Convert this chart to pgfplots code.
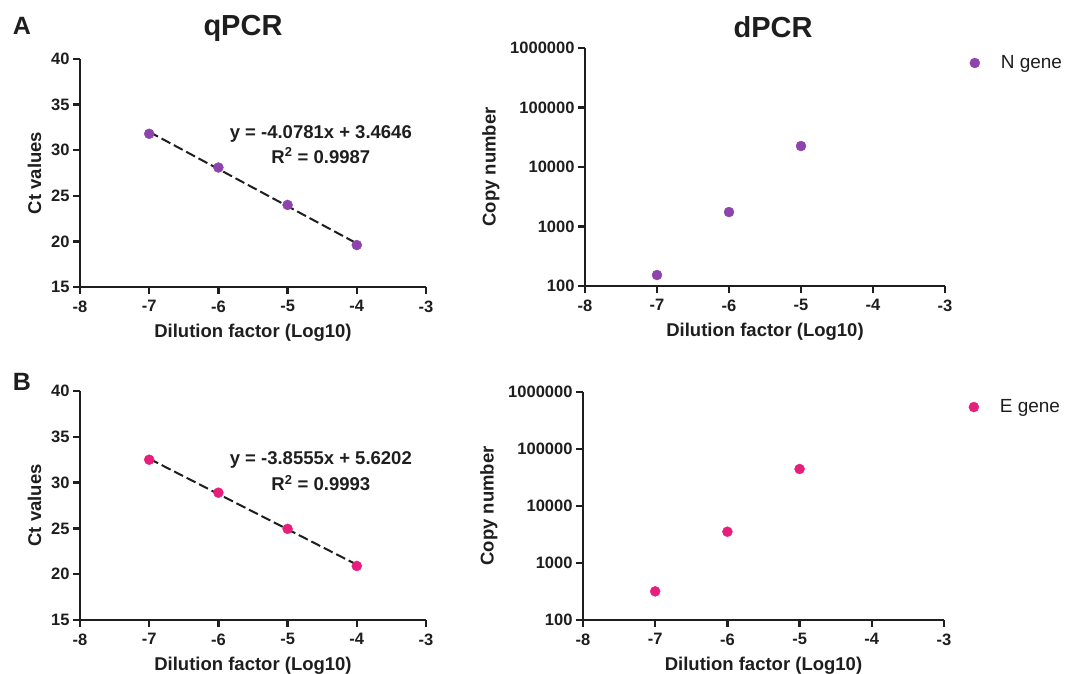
\documentclass[border=0pt]{standalone}
\usepackage{pgfplots}
\pgfplotsset{compat=1.18}
\usepackage{fontspec}
\setmainfont{Liberation Sans}

\definecolor{ngene}{RGB}{142,68,173}
\definecolor{egene}{RGB}{232,30,125}
\definecolor{axisgray}{RGB}{30,30,30}

\pgfplotsset{
  panel/.style={
    scale only axis,
    anchor=south west,
    axis x line*=bottom, axis y line*=left,
    axis line style={-, line width=2.6pt, axisgray},
    tick align=outside,
    major tick length=7pt,
    tick style={line width=2.4pt, axisgray},
    xmin=-8, xmax=-3,
    xtick={-8,-7,-6,-5,-4,-3},
    xticklabels={-8,-7,-6,-5,-4,-3},
    ticklabel style={font=\bfseries\fontsize{16.5}{16.5}\selectfont, text=axisgray},
    xticklabel style={yshift=-3pt},
    label style={font=\bfseries\fontsize{18.5}{18.5}\selectfont, text=axisgray},
    xlabel style={yshift=-5pt},
    xlabel={Dilution factor (Log10)},
    clip=false,
  },
  qpcrax/.style={ymin=15, ymax=40, ytick={15,20,...,40},
    yticklabels={15,20,25,30,35,40}, ylabel={Ct values},
    ylabel style={xshift=0pt, yshift=3pt}},
  dpcrax/.style={ymin=100, ymax=1000000,
    ytick={100,1000,10000,100000,1000000},
    yticklabels={100,1000,10000,100000,1000000},
    yminorticks=false, ylabel={Copy number},
    ylabel style={yshift=4pt},
    legend image code/.code={\draw[##1] plot coordinates {(0pt,0pt)};},
    legend style={draw=none, fill=none, anchor=west, column sep=19pt,
      font=\fontsize{19}{19}\selectfont, text=axisgray}},
}

\begin{document}
\begin{tikzpicture}
\useasboundingbox (0,0) rectangle (1077pt,673pt);

% panel letters and titles
\node[font=\bfseries\fontsize{25}{25}\selectfont, text=axisgray] at (22pt,647pt) {A};
\node[font=\bfseries\fontsize{25}{25}\selectfont, text=axisgray] at (22pt,291pt) {B};
\node[font=\bfseries\fontsize{29}{29}\selectfont, text=axisgray] at (243pt,645pt) {qPCR};
\node[font=\bfseries\fontsize{29}{29}\selectfont, text=axisgray] at (773pt,646pt) {dPCR};

% A, qPCR
\begin{axis}[panel, qpcrax, at={(80pt,386pt)}, width=346pt, height=228pt]
  \addplot[only marks, mark=*, mark size=5pt, color=ngene] coordinates {(-7,31.8) (-6,28.1) (-5,24.0) (-4,19.6)};
  \addplot[axisgray, line width=2pt, dash pattern=on 10pt off 4pt] coordinates {(-7,32.01) (-4,19.78)};
  \node[font=\bfseries\fontsize{18.5}{18.5}\selectfont, text=axisgray] at (axis cs:-4.52,31.8) {y = -4.0781x + 3.4646};
  \node[font=\bfseries\fontsize{18.5}{18.5}\selectfont, text=axisgray] at (axis cs:-4.52,29.4) {R\textsuperscript{2} = 0.9987};
\end{axis}

% A, dPCR
\begin{axis}[panel, ymode=log, dpcrax, at={(585pt,387pt)}, width=360pt, height=238pt,
  legend style={at={(1.06,0.937)}}]
  \addplot[only marks, mark=*, mark size=5pt, color=ngene] coordinates {(-7,153) (-6,1750) (-5,22500)};
  \addlegendentry{N gene}
\end{axis}

% B, qPCR
\begin{axis}[panel, qpcrax, at={(80pt,53pt)}, width=346pt, height=229pt]
  \addplot[only marks, mark=*, mark size=5pt, color=egene] coordinates {(-7,32.5) (-6,28.9) (-5,24.95) (-4,20.9)};
  \addplot[axisgray, line width=2pt, dash pattern=on 10pt off 4pt] coordinates {(-7,32.61) (-4,21.04)};
  \node[font=\bfseries\fontsize{18.5}{18.5}\selectfont, text=axisgray] at (axis cs:-4.52,32.5) {y = -3.8555x + 5.6202};
  \node[font=\bfseries\fontsize{18.5}{18.5}\selectfont, text=axisgray] at (axis cs:-4.52,29.96) {R\textsuperscript{2} = 0.9993};
\end{axis}

% B, dPCR
\begin{axis}[panel, ymode=log, dpcrax, at={(583pt,53pt)}, width=361pt, height=228pt,
  legend style={at={(1.06,0.934)}}]
  \addplot[only marks, mark=*, mark size=5pt, color=egene] coordinates {(-7,318) (-6,3540) (-5,44600)};
  \addlegendentry{E gene}
\end{axis}
\end{tikzpicture}
\end{document}
